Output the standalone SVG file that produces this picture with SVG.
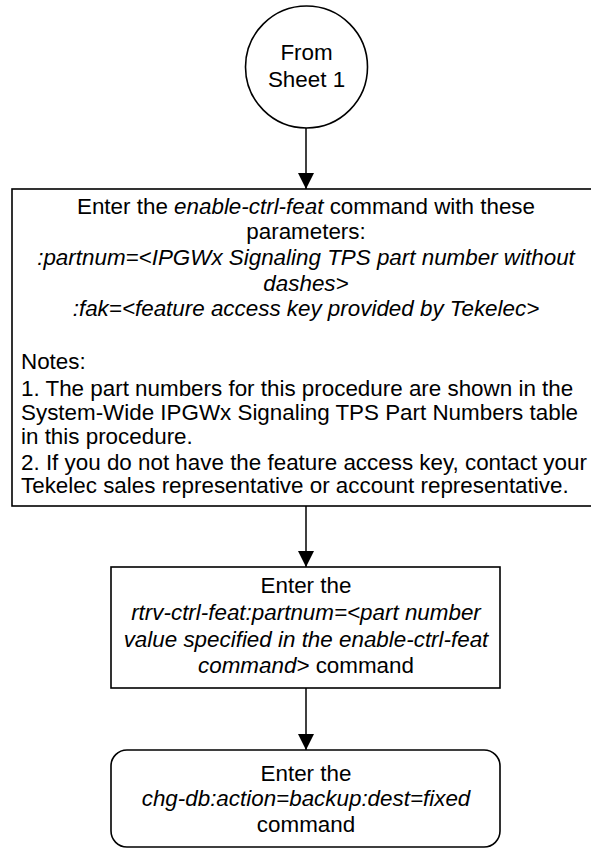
<svg xmlns="http://www.w3.org/2000/svg" width="591" height="850" viewBox="0 0 591 850">
<style>
  .shape { fill: #fff; stroke: #000; stroke-width: 1.6; }
  .t { font-family: "Liberation Sans", Arial, Helvetica, sans-serif; font-size: 22.4px; fill: #000; }
  .c { text-anchor: middle; }
  .i { font-style: italic; }
  .conn { stroke: #000; stroke-width: 1.5; fill: none; }
</style>
<defs>
  <marker id="arrow" markerUnits="userSpaceOnUse" markerWidth="16" markerHeight="18" refX="16" refY="8" orient="auto">
    <path d="M0,0 L16,8 L0,16 Z" fill="#000"/>
  </marker>
</defs>
<rect width="591" height="850" fill="#fff"/>
<g id="connectors">
  <line class="conn" x1="306" y1="128" x2="306" y2="189" marker-end="url(#arrow)"/>
  <line class="conn" x1="306" y1="506" x2="306" y2="567" marker-end="url(#arrow)"/>
  <line class="conn" x1="306" y1="688" x2="306" y2="750" marker-end="url(#arrow)"/>
</g>
<g id="start">
  <circle class="shape" cx="306.5" cy="67" r="61"/>
  <text class="t c" x="306.5" y="60">From</text>
  <text class="t c" x="306.5" y="87">Sheet 1</text>
</g>
<g id="enable">
  <rect class="shape" x="12" y="189" width="590" height="317"/>
  <text class="t c" x="306" y="214">Enter the <tspan class="i">enable-ctrl-feat</tspan> command with these</text>
  <text class="t c" x="306" y="239">parameters:</text>
  <text class="t c i" x="306" y="265">:partnum=&lt;IPGWx Signaling TPS part number without</text>
  <text class="t c i" x="306" y="291">dashes&gt;</text>
  <text class="t c i" x="306" y="316">:fak=&lt;feature access key provided by Tekelec&gt;</text>
  <text class="t" x="21" y="369">Notes:</text>
  <text class="t" x="21" y="396">1. The part numbers for this procedure are shown in the</text>
  <text class="t" x="21" y="420">System-Wide IPGWx Signaling TPS Part Numbers table</text>
  <text class="t" x="21" y="444">in this procedure.</text>
  <text class="t" x="21" y="470">2. If you do not have the feature access key, contact your</text>
  <text class="t" x="21" y="493">Tekelec sales representative or account representative.</text>
</g>
<g id="rtrv">
  <rect class="shape" x="111" y="567" width="389" height="121"/>
  <text class="t c" x="306" y="593">Enter the</text>
  <text class="t c i" x="306" y="620">rtrv-ctrl-feat:partnum=&lt;part number</text>
  <text class="t c i" x="306" y="647">value specified in the enable-ctrl-feat</text>
  <text class="t c" x="306" y="673"><tspan class="i">command&gt;</tspan> command</text>
</g>
<g id="backup">
  <rect class="shape" x="111" y="750" width="389" height="97" rx="16" ry="16"/>
  <text class="t c" x="306" y="781">Enter the</text>
  <text class="t c i" x="306" y="806">chg-db:action=backup:dest=fixed</text>
  <text class="t c" x="306" y="832">command</text>
</g>
</svg>
